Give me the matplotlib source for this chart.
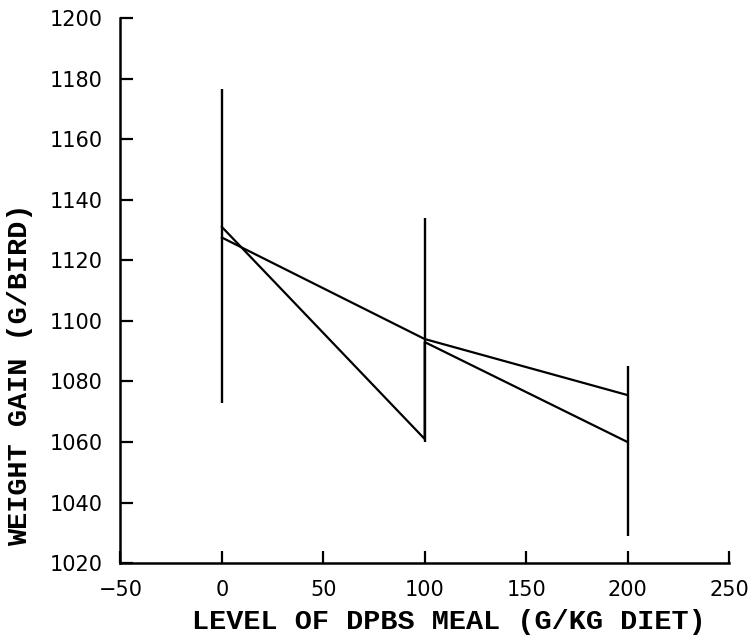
import matplotlib
matplotlib.use("Agg")
import matplotlib.pyplot as plt

# levels of DPBS meal (g/kg diet)
levels = [0, 100, 200]
# error bar ends (low, high) at each level
bar_low = [1073, 1060, 1029]
bar_high = [1176.5, 1134, 1085]

# observed trace as drawn (runs down the bar at 100)
obs_x = [0, 100, 100, 200]
obs_y = [1131, 1061, 1093, 1060]

# fitted response line
fit_x = [0, 100, 200]
fit_y = [1127.5, 1094, 1075.5]

fig = plt.figure(figsize=(7.53, 6.4), dpi=100)
ax = fig.add_axes([0.160, 0.12, 0.808, 0.852])

ax.vlines(levels, bar_low, bar_high, color="black", lw=1.7)
ax.plot(obs_x, obs_y, color="black", lw=1.6)
ax.plot(fit_x, fit_y, color="black", lw=1.6)

ax.set_xlim(-50, 250)
ax.set_ylim(1020, 1200)
ax.set_xticks(range(-50, 251, 50))
ax.set_yticks(range(1020, 1201, 20))
ax.set_xticklabels(["\u221250", "0", "50", "100", "150", "200", "250"])

for s in ["top", "right"]:
    ax.spines[s].set_visible(False)
for s in ["left", "bottom"]:
    ax.spines[s].set_linewidth(1.8)

ax.tick_params(axis="both", direction="in", length=9, width=1.6,
               labelsize=15)
ax.tick_params(axis="y", pad=13)
ax.tick_params(axis="x", pad=12)

lab = dict(family="Liberation Mono", fontweight="bold", fontsize=20.5,
           va="center")
ax.set_xlabel("LEVEL OF DPBS MEAL (G/KG DIET)", **lab)
ax.set_ylabel("WEIGHT GAIN (G/BIRD)", **lab)
ax.xaxis.set_label_coords(0.54, -0.108)
ax.yaxis.set_label_coords(-0.165, 0.345)

fig.savefig("out.png", dpi=100)
